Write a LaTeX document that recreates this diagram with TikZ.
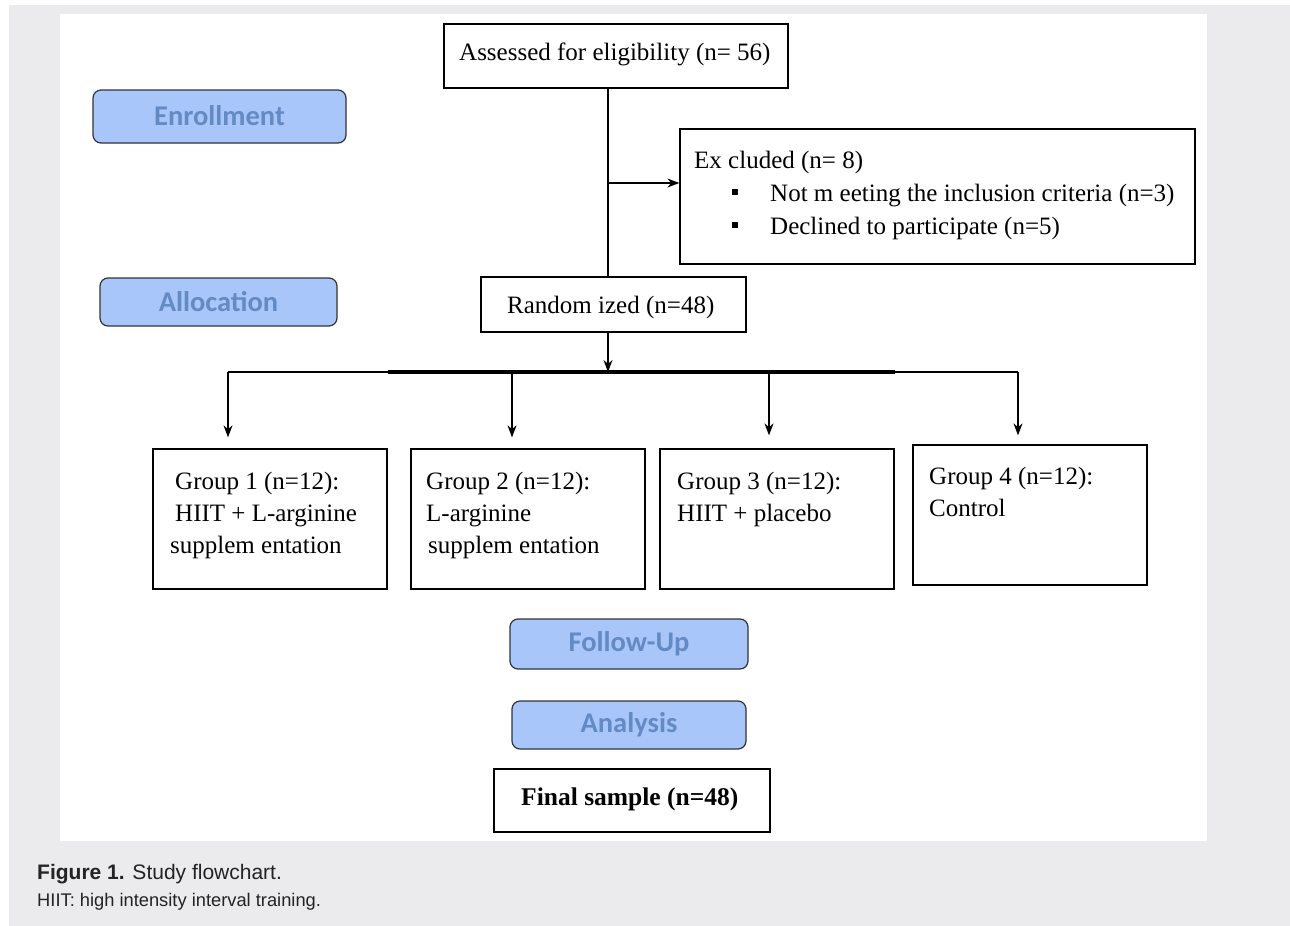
\documentclass[tikz,border=0pt]{standalone}
\usepackage{fontspec}
\setmainfont{Liberation Serif}
\newfontfamily\phasefont{Carlito}
\newfontfamily\capfont{Liberation Sans}
\usetikzlibrary{arrows.meta}
\definecolor{pagegray}{RGB}{235,235,238}
\definecolor{phasefill}{RGB}{168,198,250}
\definecolor{phasetext}{RGB}{100,138,196}
\definecolor{captext}{RGB}{35,35,35}
\tikzset{
  box/.style={draw=black, line width=1.3pt, fill=white, inner sep=0pt},
  phase/.style={draw=black!80, line width=1.2pt, fill=phasefill, rounded corners=8pt,
    text=phasetext, inner sep=0pt, font=\phasefont\bfseries\fontsize{28.5}{31}\selectfont},
  txt/.style={anchor=base west, inner sep=0pt, font=\fontsize{25}{32}\selectfont},
  bullet/.style={fill=black, minimum size=6pt, inner sep=0pt},
  conn/.style={line width=1.3pt},
  arrow/.style={line width=1.3pt, -{Stealth[length=12pt,width=9pt]}},
}
\begin{document}
\begin{tikzpicture}[x=1pt,y=-1pt]
\useasboundingbox (0,0) rectangle (1290,926);
\fill[white] (0,0) rectangle (1290,926);
\fill[pagegray] (9,5) rectangle (1290,926);
\fill[white] (60,14) rectangle (1207,841);

% phase labels
\node[phase, minimum width=253pt, minimum height=53pt] (enroll) at (219.5,116.5) {\raisebox{1.5pt}{Enrollment}};
\node[phase, minimum width=237pt, minimum height=48pt] (alloc) at (218.5,302) {\raisebox{1pt}{Allocation}};
\node[phase, minimum width=238pt, minimum height=50pt] (follow) at (629,644) {\raisebox{1pt}{Follow-Up}};
\node[phase, minimum width=234pt, minimum height=48pt] (analysis) at (629,725) {Analysis};

% boxes
\node[box, minimum width=344pt, minimum height=64pt] (assess) at (616,56) {};
\node[box, minimum width=515pt, minimum height=135pt] (excl) at (937.5,196.5) {};
\node[box, minimum width=265pt, minimum height=55pt] (rand) at (613.5,304.5) {};
\node[box, minimum width=234pt, minimum height=140pt] (g1) at (270,519) {};
\node[box, minimum width=234pt, minimum height=140pt] (g2) at (528,519) {};
\node[box, minimum width=234pt, minimum height=140pt] (g3) at (777,519) {};
\node[box, minimum width=234pt, minimum height=140pt] (g4) at (1030,515) {};
\node[box, minimum width=276pt, minimum height=63pt] (final) at (632,800.5) {};

% texts
\node[txt] (assesst) at (459,60) {Assessed for eligibility (n= 56)};
\node[txt] (exclt) at (694,168) {Ex cluded (n= 8)};
\node[bullet] (b1) at (735,192) {};
\node[bullet] (b2) at (735,225) {};
\node[txt] (ex1) at (770,201) {Not m eeting the inclusion criteria (n=3)};
\node[txt] (ex2) at (770,234) {Declined to participate (n=5)};
\node[txt] (randt) at (507,313) {Random ized (n=48)};
\node[txt] (g1a) at (175,489) {Group 1 (n=12):};
\node[txt] (g1b) at (175,521) {HIIT + L-arginine};
\node[txt] (g1c) at (170,553) {supplem entation};
\node[txt] (g2a) at (426,489) {Group 2 (n=12):};
\node[txt] (g2b) at (426,521) {L-arginine};
\node[txt] (g2c) at (428,553) {supplem entation};
\node[txt] (g3a) at (677,489) {Group 3 (n=12):};
\node[txt] (g3b) at (677,521) {HIIT + placebo};
\node[txt] (g4a) at (929,484) {Group 4 (n=12):};
\node[txt] (g4b) at (929,516) {Control};
\node[txt, font=\bfseries\fontsize{25.5}{32}\selectfont] (finalt) at (521,805) {Final sample (n=48)};

% connectors
\coordinate (trunk) at (608,0);
\coordinate (exbranch) at (608,183);
\coordinate (split) at (608,372);
\coordinate (a1) at (228,372);
\coordinate (a2) at (512,372);
\coordinate (a3) at (769,372);
\coordinate (a4) at (1018,372);
\coordinate (barL) at (388,372);
\coordinate (barR) at (895,372);

\draw[conn] (assess.south -| trunk) -- (rand.north -| trunk);
\draw[arrow] (exbranch) -- (exbranch -| excl.west);
\draw[arrow] (rand.south -| trunk) -- (split);
\draw[conn] (a1) -- (a4);
\draw[line width=4pt] (barL) -- (barR);
\draw[arrow, shorten >=11pt] (a1) -- (a1 |- g1.north);
\draw[arrow, shorten >=11pt] (a2) -- (a2 |- g2.north);
\draw[arrow, shorten >=13pt] (a3) -- (a3 |- g3.north);
\draw[arrow, shorten >=9pt] (a4) -- (a4 |- g4.north);

% caption
\node[anchor=base west, inner sep=0pt, text=captext, font=\capfont\fontsize{21}{24}\selectfont] (cap1) at (37,879) {\textbf{Figure 1.} Study flowchart.};
\node[anchor=base west, inner sep=0pt, text=captext, font=\capfont\fontsize{18.3}{22}\selectfont] (cap2) at (37,906) {HIIT: high intensity interval training.};
\end{tikzpicture}
\end{document}
